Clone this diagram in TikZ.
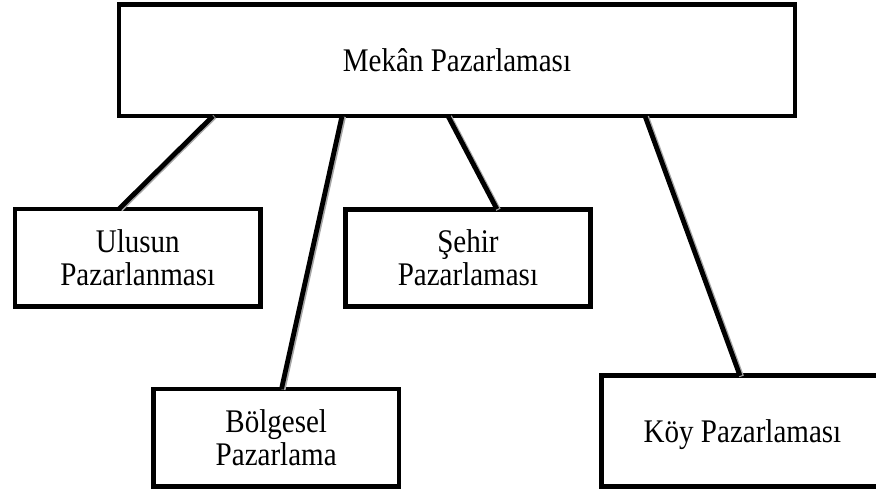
\documentclass[tikz,border=0pt]{standalone}
\usepackage{fontspec}
\setmainfont{Liberation Serif}
\newfontfamily\boxfont{Liberation Serif}[FakeStretch=0.88]
\usepackage{tikz}
\usetikzlibrary{positioning, calc}

\begin{document}
\begin{tikzpicture}[
        x=1pt, y=-1pt,
        bigbox/.style={rectangle, draw, line width=4.8pt, inner sep=0pt, outer sep=0pt, align=center, font=\boxfont\fontsize{33pt}{33.3pt}\selectfont},
        subbox/.style={bigbox, minimum width=245.6pt, minimum height=97.6pt},
        link/.style={line width=4.8pt, preaction={draw=black!35, line width=4.8pt, transform canvas={xshift=1.6pt, yshift=-0.6pt}}}
    ]
        \useasboundingbox (0,0) rectangle (876,491);

        \node[bigbox, minimum width=676pt, minimum height=111.5pt] (mekan) at (457,60.25) {Mekân Pazarlaması};
        \node[subbox] (ulus)     at (137.75,257.75) {Ulusun\\Pazarlanması};
        \node[subbox] (sehir)    at (467.9,257.9)   {Şehir\\Pazarlaması};
        \node[subbox] (bolgesel) at (276.2,437.85)  {Bölgesel\\Pazarlama};
        \node[bigbox, text depth=0pt, minimum width=281.4pt, minimum height=110.9pt] (koy) at (742.5,431.25) {Köy Pazarlaması};

        % Connectors from the top box
        \draw[link] ([xshift=-244pt]mekan.south) -- ([xshift=-18.75pt]ulus.north);
        \draw[link] ([xshift=-115pt]mekan.south) -- ([xshift=5.3pt]bolgesel.north);
        \draw[link] ([xshift=-9pt]mekan.south)   -- ([xshift=29pt]sehir.north);
        \draw[link] ([xshift=188pt]mekan.south)  -- ([xshift=-2.5pt]koy.north);
    \end{tikzpicture}
\end{document}
